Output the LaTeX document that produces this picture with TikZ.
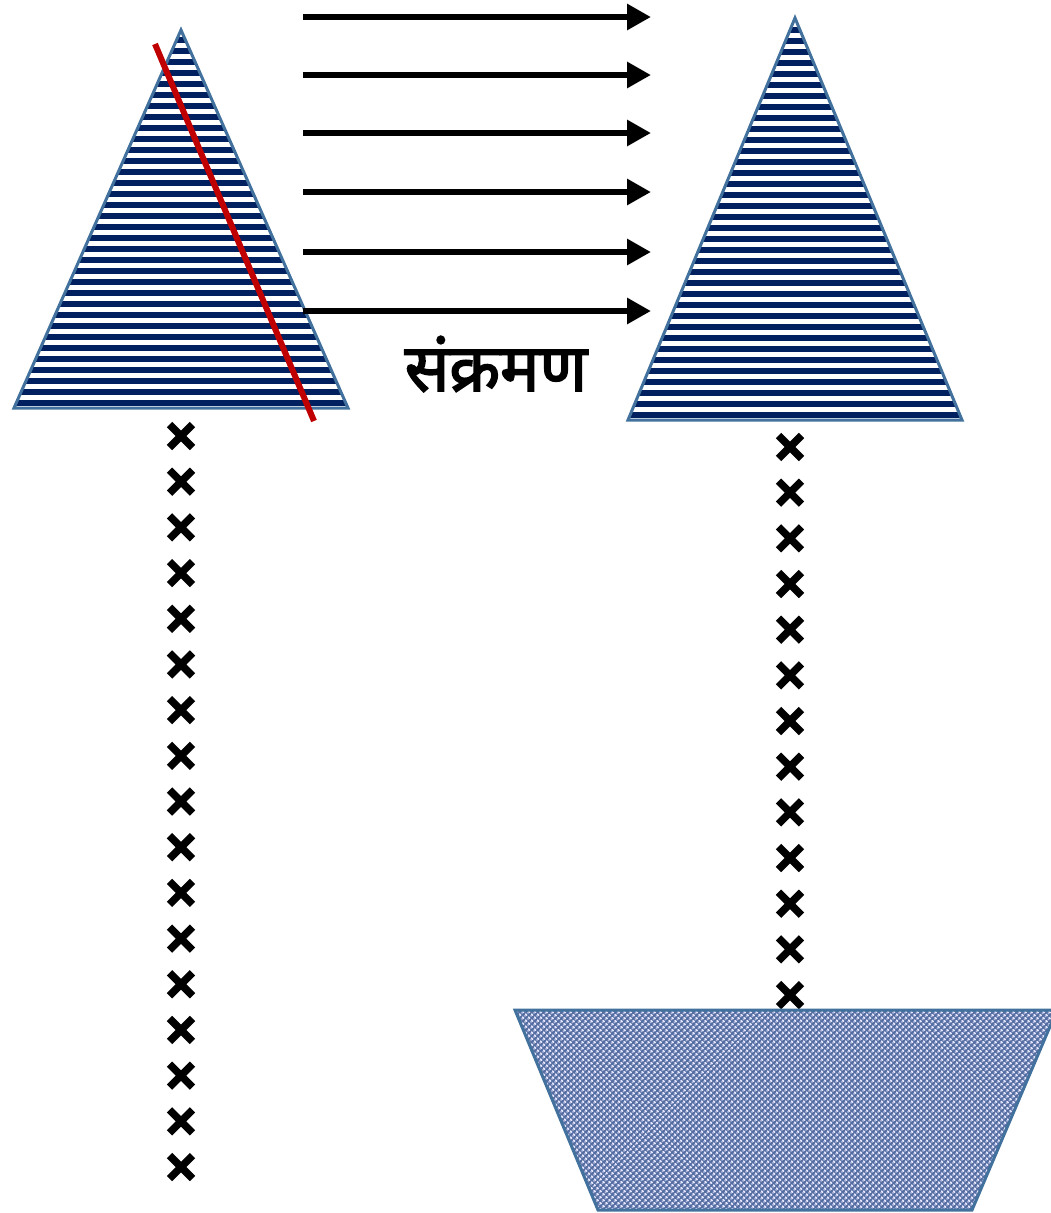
\documentclass[tikz,border=0pt]{standalone}
\usepackage{fontspec}
\newfontfamily\deva[Script=Devanagari,FakeBold=2.5]{Noto Sans}
\usetikzlibrary{arrows.meta,patterns.meta}
\definecolor{edgeblue}{RGB}{65,113,156}
\definecolor{stripenavy}{RGB}{0,32,96}
\definecolor{redline}{RGB}{192,0,0}
\definecolor{trapfill}{RGB}{85,110,162}
\tikzset{
  tri/.style={draw=edgeblue,line width=3pt,line join=miter},
  stripe/.style={stripenavy,line width=6pt},
  flowarrow/.style={line width=6pt,-{Triangle[length=24pt,width=25pt]}},
  cross/.style={line width=7.5pt},
  crossmark/.pic={\draw[cross] (-11.5,-11.5)--(11.5,11.5) (-11.5,11.5)--(11.5,-11.5);},
  lbl/.style={font=\deva\fontsize{66}{70}\selectfont,inner sep=0pt}
}
\begin{document}
\begin{tikzpicture}[x=1pt,y=-1pt]
\useasboundingbox (0,0) rectangle (1051,1213);
\clip (0,0) rectangle (1051,1213);
% left triangle
\coordinate (LA) at (181,30);
\coordinate (LL) at (14,408);
\coordinate (LR) at (348,408);
\begin{scope}
  \clip (LA)--(LL)--(LR)--cycle;
  \fill[white] (LA)--(LL)--(LR)--cycle;
  \foreach \i in {0,...,36} \draw[stripe] (0,{403-\i*11}) -- (400,{403-\i*11});
\end{scope}
\draw[tri] (LA)--(LL)--(LR)--cycle;
% right triangle
\coordinate (RA) at (795,18);
\coordinate (RL) at (628,420);
\coordinate (RR) at (962,420);
\begin{scope}
  \clip (RA)--(RL)--(RR)--cycle;
  \fill[white] (RA)--(RL)--(RR)--cycle;
  \foreach \i in {0,...,38} \draw[stripe] (600,{415-\i*11}) -- (1000,{415-\i*11});
\end{scope}
\draw[tri] (RA)--(RL)--(RR)--cycle;
% red line
\coordinate (r1) at (155,44);
\coordinate (r2) at (314,421);
\draw[redline,line width=6pt] (r1)--(r2);
% arrows
\foreach \y [count=\k] in {17,75,133,192,252,311} {
  \coordinate (as\k) at (303,\y);
  \coordinate (ae\k) at (651,\y);
  \draw[flowarrow] (as\k) -- (ae\k);
}
\node[lbl] (label) at (496,364) {संक्रमण};
% crosses
\foreach \i in {0,...,16} \pic at (181,{436+\i*45.69}) {crossmark};
\foreach \i in {0,...,12} \pic at (790,{447+\i*45.67}) {crossmark};
% trapezoid
\coordinate (T1) at (515,1010);
\coordinate (T2) at (1057,1010);
\coordinate (T3) at (972,1210);
\coordinate (T4) at (598,1210);
\fill[trapfill] (T1)--(T2)--(T3)--(T4)--cycle;
\fill[pattern={Dots[distance=4pt,radius=1.5pt,angle=45]},pattern color=white!90!blue] (T1)--(T2)--(T3)--(T4)--cycle;
\draw[tri] (T1)--(T2)--(T3)--(T4)--cycle;
\end{tikzpicture}
\end{document}
